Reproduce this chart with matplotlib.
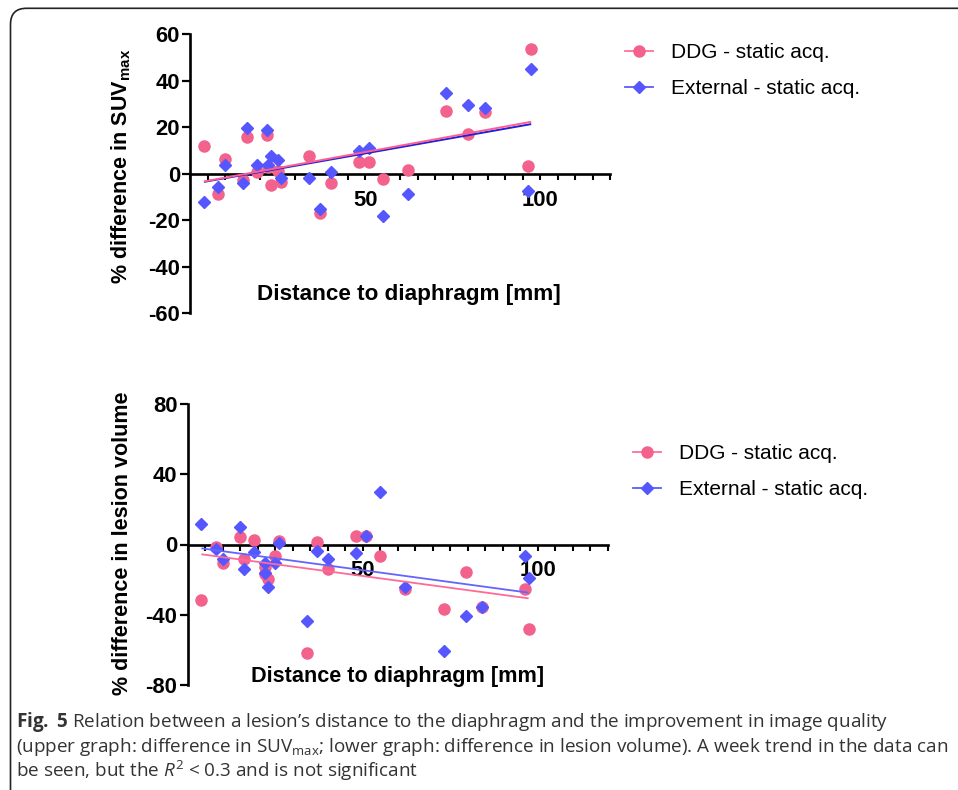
import numpy as np
import matplotlib
matplotlib.use("Agg")
import matplotlib.pyplot as plt
from matplotlib import font_manager
from matplotlib.patches import FancyBboxPatch
from matplotlib.lines import Line2D
from matplotlib.ticker import MultipleLocator, FixedLocator

# ---------------- data ----------------
distance_mm = [3.9, 8.0, 10.0, 15.0, 16.1, 19.0, 22.0, 22.1, 23.0, 25.0, 26.0, 34.0,
               37.0, 40.1, 48.1, 51.0, 55.0, 62.1, 73.1, 79.4, 84.2, 96.4, 97.4]

suv_ddg = [11.7, -8.7, 6.4, -2.9, 15.7, 0.6, 16.7, 3.0, -4.7, 1.0, -3.6, 7.4,
           -17.0, -4.0, 4.9, 4.9, -2.3, 1.7, 27.1, 17.1, 26.3, 3.1, 53.4]
suv_ext = [-12.3, -5.9, 3.9, -4.0, 19.6, 3.6, 18.9, 3.6, 7.4, 5.7, -1.9, -1.9,
           -15.1, 0.6, 9.6, 11.0, -18.0, -8.7, 34.6, 29.7, 28.3, -7.4, 45.1]

vol_ddg = [-31.6, -1.3, -10.8, 4.0, -8.5, 2.5, -12.7, -17.0, -19.9, -6.4, 2.1, -61.6,
           1.5, -14.0, 4.7, 4.7, -6.6, -25.6, -36.9, -15.5, -35.8, -25.2, -48.3]
vol_ext = [11.4, -2.8, -8.5, 9.7, -14.2, -4.4, -10.4, -16.5, -24.1, -10.8, 0.9, -43.6,
           -3.6, -8.5, -4.7, 4.7, 29.9, -24.4, -60.4, -40.7, -35.4, -6.6, -18.8]

series_labels = ["DDG - static acq.", "External - static acq."]
x_label = "Distance to diaphragm [mm]"
y_label_top = r"% difference in SUV$_{\mathsf{max}}$"
y_label_bottom = "% difference in lesion volume"
top_yticks = [-60, -40, -20, 0, 20, 40, 60]
bottom_yticks = [-80, -40, 0, 40, 80]
x_major_ticks = [50, 100]

# ---------------- fonts ----------------
def has_font(name):
    try:
        font_manager.findfont(font_manager.FontProperties(family=name), fallback_to_default=False)
        return True
    except Exception:
        return False

cap_font = "Liberation Sans Narrow" if has_font("Liberation Sans Narrow") else "Open Sans"
cap_size = 14 if cap_font == "Liberation Sans Narrow" else 13.55
plt.rcParams["font.family"] = ["Liberation Sans", "DejaVu Sans"]
plt.rcParams["axes.unicode_minus"] = False
plt.rcParams["mathtext.fontset"] = "custom"
plt.rcParams["mathtext.rm"] = cap_font
plt.rcParams["mathtext.it"] = cap_font + ":italic"
plt.rcParams["mathtext.bf"] = cap_font + ":bold"
plt.rcParams["mathtext.sf"] = "Liberation Sans:bold"

PINK = "#F2628C"
BLUE = "#5656FF"

W, H = 958, 790
fig = plt.figure(figsize=(W / 100, H / 100), dpi=100)

# frame around the figure panel
frame = FancyBboxPatch((0.105, -0.5), 11.0, 7.9 - 0.083 + 0.5,
                       boxstyle="round,pad=0,rounding_size=0.16",
                       transform=fig.dpi_scale_trans, fill=False,
                       edgecolor="#222222", linewidth=1.2)
fig.patches.append(frame)


def px_axes(left, right, top, bottom):
    return [left / W, 1 - bottom / H, (right - left) / W, (bottom - top) / H]


def style_axes(ax, ylim, yticks):
    ax.set_xlim(0, 120)
    ax.set_ylim(*ylim)
    for s in ["top", "right"]:
        ax.spines[s].set_visible(False)
    ax.spines["bottom"].set_position(("data", 0))
    ax.spines["left"].set_linewidth(1.9)
    ax.spines["bottom"].set_linewidth(1.9)
    ax.set_yticks(yticks)
    ax.xaxis.set_major_locator(FixedLocator(x_major_ticks))
    ax.xaxis.set_minor_locator(MultipleLocator(5))
    ax.tick_params(axis="y", direction="out", length=5.5, width=1.6, pad=2,
                   labelsize=15.8)
    ax.tick_params(axis="x", which="both", direction="out", length=4.5, width=1.5,
                   pad=7, labelsize=15.8)
    for lab in ax.get_xticklabels() + ax.get_yticklabels():
        lab.set_fontweight("bold")


def fit_line(ax, x, y, color, lw):
    x = np.asarray(x)
    k, b = np.polyfit(x, np.asarray(y), 1)
    xs = np.array([x.min(), x.max()])
    ax.plot(xs, k * xs + b, color=color, lw=lw, zorder=5, solid_capstyle="butt")


def legend(anchor, line_colors):
    handles = [
        Line2D([], [], color=line_colors[0], lw=1.3, marker="o", markersize=8,
               markerfacecolor=PINK, markeredgecolor=PINK),
        Line2D([], [], color=line_colors[1], lw=1.3, marker="D", markersize=6.2,
               markerfacecolor=BLUE, markeredgecolor=BLUE),
    ]
    fig.legend(handles, series_labels, loc="upper left",
               bbox_to_anchor=anchor, bbox_transform=fig.transFigure,
               frameon=False, fontsize=15, handlelength=1.35, handletextpad=0.85,
               labelspacing=0.82, borderpad=0, borderaxespad=0)


# ---------------- top panel ----------------
ax1 = fig.add_axes(px_axes(190.3, 610.3, 34, 313.3))
style_axes(ax1, (-60, 60), top_yticks)
ax1.plot(distance_mm, suv_ddg, "o", color=PINK, markersize=8, zorder=3, clip_on=False)
ax1.plot(distance_mm, suv_ext, "D", color=BLUE, markersize=6.2, zorder=3.2, clip_on=False)
fit_line(ax1, distance_mm, suv_ext, "#2020D8", 1.4)
fit_line(ax1, distance_mm, suv_ddg, "#FF5E90", 1.4)
ax1.text(0.52, 0.069, x_label, transform=ax1.transAxes, ha="center", va="center",
         fontsize=16.2, fontweight="bold")
ax1.set_ylabel(y_label_top, fontsize=15.5, fontweight="bold")
ax1.yaxis.set_label_coords(-0.137, 0.527)
legend((625 / W, 1 - 43 / H), ("#FF6F9A", "#5A5AFF"))

# ---------------- bottom panel ----------------
ax2 = fig.add_axes(px_axes(187.7, 607.7, 404, 685))
style_axes(ax2, (-80, 80), bottom_yticks)
ax2.plot(distance_mm, vol_ddg, "o", color=PINK, markersize=8, zorder=3, clip_on=False)
ax2.plot(distance_mm, vol_ext, "D", color=BLUE, markersize=6.2, zorder=3.2, clip_on=False)
fit_line(ax2, distance_mm, vol_ext, "#6464FF", 1.3)
fit_line(ax2, distance_mm, vol_ddg, "#FF6A98", 1.3)
ax2.text(0.50, 0.03, x_label, transform=ax2.transAxes, ha="center", va="center",
         fontsize=15.6, fontweight="bold")
ax2.set_ylabel(y_label_bottom, fontsize=15.5, fontweight="bold")
ax2.yaxis.set_label_coords(-0.131, 0.505)
legend((633 / W, 1 - 444 / H), ("#FF6F9A", "#5A5AFF"))

# ---------------- caption ----------------
caption_lines = [
    r"$\mathbf{Fig.}$ $\mathbf{5}$ Relation between a lesion’s distance to the diaphragm and the improvement in image quality",
    r"(upper graph: difference in SUV$_{\mathrm{max}}$; lower graph: difference in lesion volume). A week trend in the data can",
    r"be seen, but the $R^2$ < 0.3 and is not significant",
]
caption_y = [721.5, 746.5, 770.5]
for line, yp in zip(caption_lines, caption_y):
    fig.text(16 / W, 1 - yp / H, line, ha="left", va="center", fontsize=cap_size,
             family=[cap_font, "DejaVu Sans"], color="#333333")

fig.savefig("out.png", dpi=100)
